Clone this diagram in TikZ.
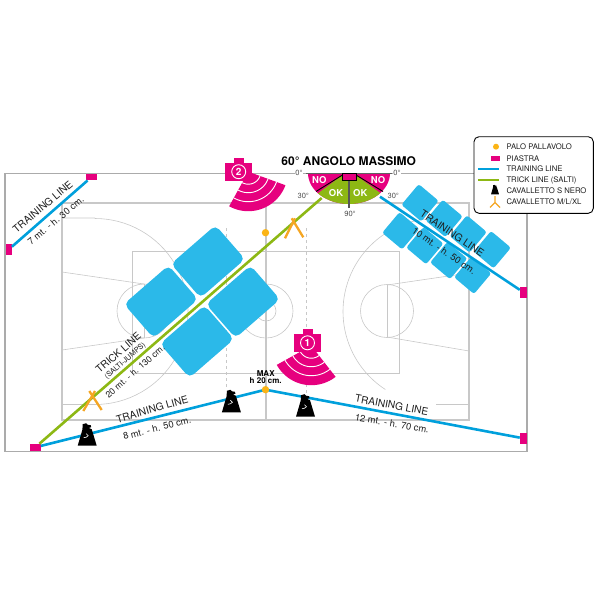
\documentclass[tikz,border=0pt]{standalone}
\usepackage{fontspec}
\setmainfont{TeX Gyre Heros}
\usepackage{xcolor}
\usetikzlibrary{positioning, calc}

\definecolor{piastracolor}{HTML}{E6007E}
\definecolor{trainingcolor}{HTML}{00A0DC}
\definecolor{trickcolor}{HTML}{8DB814}
\definecolor{panelcolor}{HTML}{2BB9E9}
\definecolor{polecolor}{HTML}{FBB415}
\definecolor{standcolor}{HTML}{F5A623}
\definecolor{courtcolor}{HTML}{C8C8C8}
\definecolor{framecolor}{HTML}{ABABAB}
\definecolor{inkcolor}{HTML}{1E1E1E}

\tikzset{
  piastra/.style={fill=piastracolor, inner sep=0pt, minimum width=#1},
  court/.style={draw=courtcolor, line width=1.1pt},
  thincourt/.style={draw=courtcolor, line width=0.6pt},
  tappeto/.style={fill=panelcolor, rounded corners=5.5pt, inner sep=0pt, minimum width=59pt, minimum height=45pt, rotate=41},
  piccolo/.style={fill=panelcolor, rounded corners=2.5pt, inner sep=0pt, minimum width=26pt, minimum height=27pt, rotate=-40},
  trainingline/.style={draw=trainingcolor, line width=2.6pt},
  trickline/.style={draw=trickcolor, line width=2.6pt},
  lab/.style={font=\fontsize{10.2}{11}\selectfont, text=inkcolor, inner sep=0pt},
  sublab/.style={font=\fontsize{9.4}{10}\selectfont, text=inkcolor, inner sep=0pt},
  anglelab/.style={font=\fontsize{7.5}{8}\selectfont, text=inkcolor!80, inner sep=0.6pt},
  wedgelab/.style={font=\bfseries\fontsize{9.5}{10}\selectfont, text=white, inner sep=0pt},
  legendlab/.style={font=\fontsize{7.7}{8}\selectfont, text=inkcolor, inner sep=0pt, anchor=west},
  standleg/.style={draw=standcolor, line width=2.3pt},
  cavs/.pic={
    \fill[black] (-9.5,0) -- (-4.8,-16) -- (-4.5,-21.5) -- (-1,-22.5) -- (0.5,-21) -- (3.5,-20.5)
      -- (4,-18.5) -- (1.5,-17.8) -- (4.5,-16.5) -- (9.5,0) -- cycle;
  },
  cavsS/.pic={
    \draw[white, line width=0.6pt] (-3.5,-8) -- (-1,-8.5) -- (1,-10) -- (-1,-12);
  }
}

\newcommand{\fotocamera}[6]{%
  \fill[piastracolor] (#3,#4) -- plot[domain=#5:{#5+99},samples=30] ({#3+39.5*cos(\x)},{#4+39.5*sin(\x)}) -- cycle;
  \foreach \r in {12.5,21,30}{
    \draw[white, line width=0.9pt] plot[domain=#5:{#5+99},samples=24] ({#3+\r*cos(\x)},{#4+\r*sin(\x)});
  }
  \fill[piastracolor] ({#1-13.6},{#2-8.8}) rectangle ({#1+13.6},{#2+8.8});
  \fill[piastracolor] ({#1-5},{#2-13.5}) rectangle ({#1+5},{#2-8});
  \node[circle, draw=white, line width=0.9pt, minimum size=14pt, inner sep=0pt, text=white,
    font=\bfseries\fontsize{10}{10}\selectfont] (cam#6) at (#1,#2) {#6};
}

\begin{document}
\begin{tikzpicture}[x=1pt, y=-1pt]
\useasboundingbox (0,0) rectangle (600,600);

%vertices
  \coordinate (palo) at (265.5,389.7);
  \coordinate (apice) at (349,173);
  \coordinate (trickend) at (321.7,198);
  \coordinate (trainstart) at (380,196.7);

%frame
  \draw[framecolor, line width=1.5pt] (5,173.5) rectangle (527,451.5);

%court
  \draw[court] (62,203) rectangle (469,420);
  \draw[court] (266,203) -- (266,420);
  \draw[thincourt] (132,251) rectangle (399,373);
  \draw[thincourt] (266,311) circle (27pt);
  \draw[thincourt] (266,311) circle (10pt);
  \draw[thincourt] (144,311) circle (27pt);
  \draw[thincourt] (387,311) circle (26.5pt);
  \draw[thincourt] (144,284) -- (144,338);
  \draw[thincourt] (387,285) -- (387,337);
  \draw[thincourt] (62,272) -- (144,284);
  \draw[thincourt] (62,350) -- (144,338);
  \draw[thincourt] (469,273) -- (387,285);
  \draw[thincourt] (469,351) -- (387,337);
  \draw[thincourt] (62,218) -- (95,218) plot[domain=-90:90,samples=50] ({95+93*cos(\x)},{311.5+93*sin(\x)}) -- (62,404.5);
  \draw[thincourt] (469,404.5) -- (436,404.5) plot[domain=123:270,samples=50] ({436+93*cos(\x)},{311.5+93*sin(\x)});
  \draw[courtcolor, line width=0.8pt, dashed] (226,228) -- (226,390);
  \draw[courtcolor, line width=0.8pt, dashed] (306,228) -- (306,394);

%panels
  \node[tappeto] (tappetoA) at (208,261.5) {};
  \node[tappeto] (tappetoB) at (161,301.7) {};
  \node[tappeto] (tappetoC) at (243,301.7) {};
  \node[tappeto] (tappetoD) at (197,341.5) {};
  \foreach \n/\px/\py in {1/400.8/230.8, 2/424.8/245.6, 3/448.7/260.5, 4/472.7/275.3,
                          5/420/202.8, 6/444.1/218.4, 7/468.2/234, 8/492.3/249.7}{
    \node[piccolo] (piccolo\n) at (\px,\py) {};
  }

%plates
  \node[piastra=6pt, minimum height=11pt] (pA) at (8.7,249.5) {};
  \node[piastra=11pt, minimum height=6pt] (pB) at (91.2,177.3) {};
  \node[piastra=10.7pt, minimum height=6.7pt] (pC) at (35.3,447.3) {};
  \node[piastra=6.7pt, minimum height=11.3pt] (pD) at (523.3,438.3) {};
  \node[piastra=6.7pt, minimum height=11pt] (pE) at (523.3,292.2) {};

%lines
  \draw[trickline] (pC) -- (trickend);
  \draw[trainingline] (pA) -- (pB);
  \draw[trainingline] (trainstart) -- (pE);
  \draw[trainingline] (pC) -- (palo) -- (pD);

%stands
  \pic (cavsA) at (87.2,445.7) {cavs};
  \pic (cavsB) at (231.4,412.3) {cavs};
  \pic (cavsC) at (305.5,416.7) {cavs};
  \pic (sA) at (87.2,445.7) {cavsS};
  \pic (sB) at (231.4,412.3) {cavsS};
  \pic (sC) at (305.5,416.7) {cavsS};
  \draw[standleg] (291.7,218.3) -- (303.3,237.3);
  \draw[standleg] (295,218.3) -- (285,238.3);
  \draw[standleg] (89.3,391) -- (101.7,410);
  \draw[standleg] (95,391) -- (83.3,411);

%pole
  \fill[polecolor] (265.5,232.7) circle (3.7pt);
  \fill[polecolor] (palo) circle (3.7pt);

%cameras
  \fotocamera{307.5}{342.8}{311.3}{345.7}{52}{1}
  \fotocamera{238.7}{171.7}{248.3}{171.7}{20}{2}

%angle
  \begin{scope}
    \clip (300,173) rectangle (400,215);
    \fill[piastracolor] (apice) circle [x radius=41pt, y radius=31pt];
  \end{scope}
  \begin{scope}
    \clip (342.5,175) -- (308,200.7) -- (308,215) -- (390,215) -- (390,200.3) -- (356,175) -- cycle;
    \fill[trickcolor] (apice) circle [x radius=41pt, y radius=31pt];
  \end{scope}
  \draw[inkcolor!70, line width=0.9pt] (306,173) -- (392,173);
  \draw[black, line width=0.9pt] (342.5,175) -- (316,191.5);
  \draw[black, line width=0.9pt] (356,175) -- (383,191.5);
  \draw[inkcolor!75, line width=1.2pt] (349,180.7) -- (349,208);
  \draw[black, line width=0.9pt, fill=piastracolor] (342.3,173) rectangle (356,180.7);
  \node[wedgelab] (noA) at (319.3,180.3) {NO};
  \node[wedgelab] (noB) at (378,180.3) {NO};
  \node[wedgelab] (okA) at (336,192.7) {OK};
  \node[wedgelab] (okB) at (360.3,192.7) {OK};
  \node[anglelab, fill=white] (zeroA) at (299,172.7) {0°};
  \node[anglelab, fill=white] (zeroB) at (397,172.7) {0°};
  \node[anglelab] (trentaA) at (303.3,195.7) {30°};
  \node[anglelab] (trentaB) at (393.3,195.7) {30°};
  \node[anglelab] (novanta) at (350,214.3) {90°};
  \node[font=\bfseries\fontsize{12}{12}\selectfont, text=black, inner sep=0pt] (titolo) at (348.7,160.7) {60° ANGOLO MASSIMO};

%labels
  \node[lab, rotate=40] (labA) at (42.7,206.7) {TRAINING LINE};
  \node[sublab, rotate=40] (subA) at (55.7,220.7) {7 mt. - h. 30 cm.};
  \node[lab, rotate=41] (labB) at (118.3,352.7) {TRICK LINE};
  \node[font=\fontsize{7.3}{8}\selectfont, text=inkcolor, inner sep=0pt, rotate=41] (subTrick) at (125.3,361) {(SALTI-JUMPS)};
  \node[font=\fontsize{8.8}{9}\selectfont, text=inkcolor, inner sep=0pt, rotate=41] (subB) at (135,371.3) {20 mt. - h. 130 cm.};
  \node[lab, rotate=16] (labC) at (152.3,409.3) {TRAINING LINE};
  \node[sublab, rotate=14] (subC) at (157,428.3) {8 mt. - h. 50 cm.};
  \node[lab, rotate=-10.5] (labD) at (391.7,405) {TRAINING LINE};
  \node[sublab, rotate=-10] (subD) at (392,423.3) {12 mt. - h. 70 cm.};
  \node[lab, rotate=-33.7] (labE) at (452.3,233.3) {TRAINING LINE};
  \node[sublab, rotate=-34.6] (subE) at (444,250.7) {10 mt. - h. 50 cm.};
  \node[font=\bfseries\fontsize{8}{8}\selectfont, text=black, inner sep=0pt] (maxA) at (265.7,373.3) {MAX};
  \node[font=\bfseries\fontsize{8}{8}\selectfont, text=black, inner sep=0pt] (maxB) at (265.7,381) {h 20 cm.};

%legend
  \draw[black, line width=0.9pt, fill=white, rounded corners=5pt] (474,136.7) rectangle (593.3,213.3);
  \fill[polecolor] (496,146.7) circle (3pt);
  \fill[piastracolor] (490.7,156) rectangle (500,160.7);
  \draw[trainingline, line width=1.8pt] (478.3,168.7) -- (499.3,168.7);
  \draw[trickline, line width=1.8pt] (478.3,179.7) -- (499.3,179.7);
  \pic[scale=0.42] (cavsLeg) at (495,194.3) {cavs};
  \draw[standcolor, line width=1.1pt] (495,196) -- (495,202.5) (490,207.5) -- (495,202.5) -- (500,207.5);
  \node[legendlab] (legA) at (506.3,147) {PALO PALLAVOLO};
  \node[legendlab] (legB) at (506.3,158.3) {PIASTRA};
  \node[legendlab] (legC) at (506.3,169) {TRAINING LINE};
  \node[legendlab] (legD) at (506.3,180) {TRICK LINE (SALTI)};
  \node[legendlab] (legE) at (506.3,190.7) {CAVALLETTO S NERO};
  \node[legendlab] (legF) at (506.3,201.7) {CAVALLETTO M/L/XL};
\end{tikzpicture}
\end{document}
